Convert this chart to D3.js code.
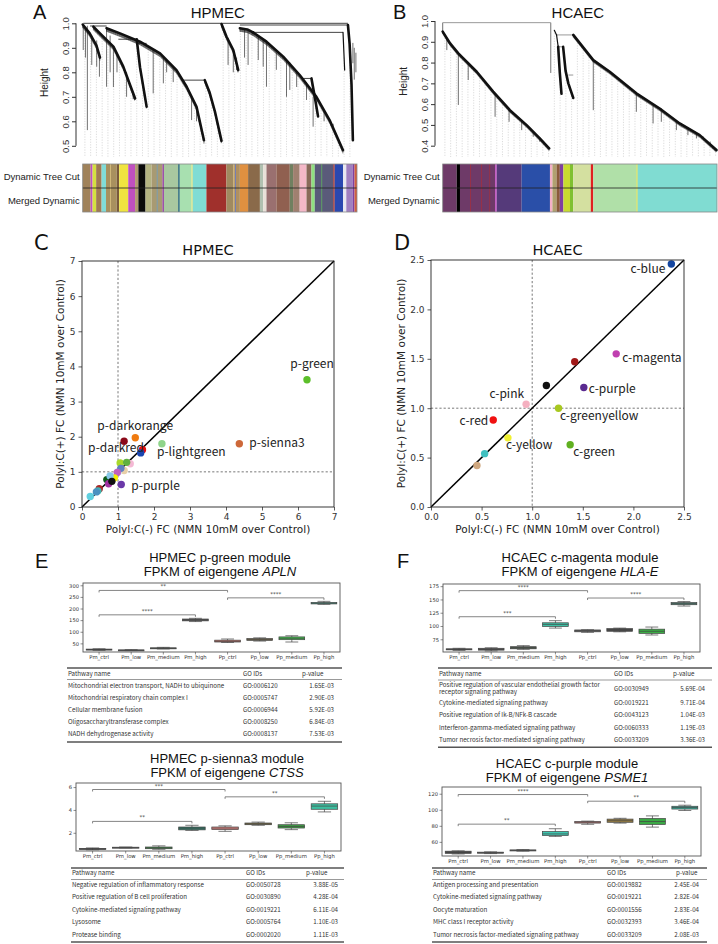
<!DOCTYPE html>
<html><head><meta charset="utf-8">
<script src="https://cdn.jsdelivr.net/npm/d3@7/dist/d3.min.js"></script>
<style>html,body{margin:0;padding:0;background:#fff;}svg{display:block;}</style>
</head><body>
<script>
// ====================== DATA ======================
// Panel A / B : WGCNA gene dendrograms. Leaf order 0-1000, merge height.
const dendroA_spines = [
  [[0,0.995],[25,0.96],[50,0.91],[63,0.86]],
  [[39,0.986],[63,0.959],[112,0.905],[148,0.823],[191,0.693]],
  [[87,0.98],[136,0.959],[209,0.925],[282,0.877],[342,0.809],[379,0.741],[415,0.659],[442,0.523]],
  [[197,0.935],[209,0.82],[233,0.66]],
  [[445,0.768],[462,0.72],[482,0.64],[506,0.52]],
  [[506,0.997],[524,0.946],[549,0.891],[567,0.809]],
  [[573,0.98],[600,0.975],[621,0.963]],
  [[621,0.963],[670,0.925],[731,0.864],[791,0.789],[852,0.700],[900,0.605],[949,0.482]],
  [[834,0.775],[846,0.70],[858,0.62]],
  [[949,0.963],[955,0.809]],
  [[967,0.993],[973,0.918],[980,0.75],[985,0.523]]
];
const dendroA_merges = [[1.0,2,967],[0.993,573,967],[0.989,27,87],[0.963,621,949],[0.935,130,197],[0.918,197,233],[0.768,360,445],[0.775,797,834]];
const dendroA_drops = [[17,0.99,0.564],[2,0.99,0.891],[10,0.98,0.86],[33,0.95,0.83],[51,0.93,0.823],[61,0.88,0.782],[87,0.98,0.741],[100,0.95,0.80],[112,0.9,0.74],[125,0.87,0.80],[160,0.80,0.70],[184,0.72,0.69],[257,0.89,0.714],[294,0.86,0.755],[306,0.85,0.80],[330,0.82,0.76],[397,0.70,0.605],[415,0.66,0.60],[530,0.94,0.83],[549,0.89,0.80],[561,0.86,0.809],[590,0.975,0.86],[603,0.97,0.83],[640,0.95,0.85],[658,0.93,0.823],[670,0.925,0.741],[706,0.88,0.81],[743,0.85,0.70],[755,0.84,0.728],[780,0.80,0.74],[816,0.76,0.687],[840,0.70,0.578],[880,0.64,0.60],[913,0.59,0.578],[985,0.92,0.837],[990,0.90,0.77],[996,0.88,0.80]];
const dendroA_colors = [[0,29,'#a0825a'],[29,36,'#c050c0'],[36,49,'#d4e040'],[49,69,'#a07a52'],[69,85,'#80dcd8'],[85,124,'#a8905e'],[100,103,'#d8c080'],[124,133,'#7a5a3a'],[133,166,'#f0e440'],[166,191,'#c050c0'],[191,203,'#b09a70'],[203,229,'#0a0a0a'],[229,251,'#b4b482'],[251,291,'#a89a72'],[270,273,'#70a0c0'],[291,296,'#9030a0'],[296,348,'#a8c8a0'],[348,354,'#2a6a7a'],[354,397,'#a8e0b0'],[397,401,'#e0e060'],[401,451,'#80dcd4'],[451,524,'#a0302c'],[524,549,'#a08a60'],[549,555,'#c0a060'],[555,558,'#3050c0'],[558,573,'#b09060'],[573,603,'#e09040'],[603,646,'#8a6a4a'],[646,658,'#b0c0b0'],[658,670,'#e8e0d8'],[670,706,'#9a7070'],[706,755,'#906050'],[755,767,'#708060'],[767,791,'#a08070'],[791,816,'#f4b8c8'],[816,834,'#8a6a5a'],[834,846,'#90e080'],[846,913,'#5a5a7a'],[870,873,'#60b060'],[913,919,'#a04040'],[919,949,'#2a48b0'],[949,961,'#e8e8f0'],[961,985,'#a080c0'],[985,991,'#8040a0'],[991,1000,'#d06040']];

const dendroB_spines = [
  [[0,0.949],[27,0.892],[57,0.844],[124,0.756],[184,0.66],[245,0.571],[306,0.499],[354,0.435],[388,0.387]],
  [[476,0.933],[549,0.812],[609,0.756],[706,0.652],[791,0.579],[864,0.507],[937,0.451],[998,0.379]],
  [[421,0.876],[427,0.75],[433,0.65]],
  [[439,0.876],[448,0.76],[458,0.70],[476,0.63]],
  [[407,0.955],[415,0.933]],
  [[415,0.933],[421,0.876]]
];
const dendroB_merges = [[0.992,0,394],[0.933,415,476],[0.876,421,439],[0.74,458,476]];
const dendroB_drops = [[0,0.992,0.949],[394,0.992,0.75],[15,0.92,0.86],[57,0.844,0.596],[93,0.80,0.716],[191,0.65,0.539],[242,0.58,0.515],[288,0.52,0.475],[330,0.47,0.443],[354,0.44,0.419],[549,0.812,0.571],[706,0.652,0.563],[767,0.60,0.507],[797,0.58,0.515],[852,0.52,0.475],[894,0.49,0.451],[925,0.46,0.435],[949,0.445,0.43],[975,0.42,0.40]];
const dendroB_colors = [[0,51,'#6e3a68'],[51,63,'#000000'],[63,191,'#6e3a68'],[100,102,'#a03040'],[140,142,'#a03040'],[170,172,'#a03040'],[191,197,'#c050c0'],[197,288,'#553a7a'],[288,391,'#2a4fa8'],[391,400,'#f4b0c8'],[400,415,'#b0a070'],[415,427,'#8a5a3a'],[427,440,'#8040a0'],[440,464,'#c8dc30'],[464,476,'#80c030'],[476,540,'#d4e0a0'],[540,549,'#e02020'],[549,706,'#b0e0a8'],[706,711,'#c8dc50'],[711,1000,'#80dcd2']];

// Panel C : HPMEC module eigengene fold changes
const scatterC_modules = ['p-green','p-sienna3','p-lightgreen','p-darkorange','p-darkred','p-red','p-blue','p-pink','p-greenyellow','p-lightyellow','p-tan','p-lightcyan','p-midnightblue','p-magenta','p-purple','p-yellow','p-darkgreen','p-plum','p-skyblue','p-black','p-brown','p-turquoise','p-steelblue','p-cyan'];
const scatterC_x = [6.25,4.37,2.22,1.48,1.17,1.68,1.63,1.34,1.06,1.24,1.17,1.0,1.08,0.98,1.09,0.9,0.69,0.74,0.78,0.83,0.48,0.44,0.40,0.23];
const scatterC_y = [3.62,1.80,1.80,1.97,1.87,1.63,1.54,1.23,1.25,1.27,1.04,1.0,1.1,0.98,0.64,0.83,0.78,0.66,0.88,0.73,0.52,0.46,0.43,0.30];
const scatterC_colors = ['#5cbf2a','#cd6839','#8fd48a','#f07b10','#8b0a1a','#e81010','#1a46b0','#f4b8d4','#a8d82a','#60b040','#e8d0a8','#b0d8f0','#6080c0','#c060c0','#6a38a8','#f4f000','#0e5a1a','#a030a0','#88c8e8','#101010','#a82828','#40b8b0','#4a90c0','#60d0e0'];
const scatterC_labeled = ['p-green','p-sienna3','p-lightgreen','p-darkorange','p-darkred','p-purple'];

// Panel D : HCAEC module eigengene fold changes
const scatterD_modules = ['c-blue','c-magenta','c-brown','c-black','c-purple','c-pink','c-greenyellow','c-red','c-yellow','c-green','c-turquoise','c-tan'];
const scatterD_x = [2.375,1.83,1.42,1.14,1.51,0.94,1.26,0.615,0.76,1.375,0.53,0.454];
const scatterD_y = [2.46,1.55,1.47,1.23,1.21,1.04,1.0,0.88,0.70,0.63,0.54,0.42];
const scatterD_colors = ['#1446a0','#c040b0','#a01818','#101010','#5a2a90','#f4b0c0','#a8c820','#f01010','#f0f030','#60b020','#40c0c0','#d0a880'];
const scatterD_labeled = ['c-blue','c-magenta','c-purple','c-pink','c-greenyellow','c-red','c-yellow','c-green'];

// Panels E / F : box plots  [min, q1, median, q3, max]
const boxCategories = ['Pm_ctrl','Pm_low','Pm_medium','Pm_high','Pp_ctrl','Pp_low','Pp_medium','Pp_high'];
const boxAPLN = [[22,23.5,25.5,27.5,29],[21,22,23,24,25],[28,29.5,31,33,35],[146,149,153,157,160],[56,58,61,66,71],[62,65,69,73,76],[58,68,74,80,85],[220,222,225,228,233]];
const boxCTSS = [[0.55,0.6,0.63,0.68,0.72],[0.72,0.74,0.76,0.78,0.8],[0.6,0.65,0.72,0.8,0.9],[2.25,2.3,2.45,2.55,2.7],[2.17,2.32,2.45,2.55,2.65],[2.7,2.75,2.82,2.9,2.98],[2.32,2.46,2.6,2.75,2.92],[3.87,4.1,4.38,4.58,4.8]];
const boxHLAE = [[55,56,57,58,59],[54,55.5,57,59,60],[57,58,60,62,64],[97,100,104,107,111],[89,90,92,93.5,94],[90,91,94,96,97],[84,87,91,95,99],[138.5,141,143,145,147]];
const boxPSME1 = [[45.5,46.3,47.5,49,49.5],[46,46.5,47,47.8,48.2],[49,49.3,50,50.6,51],[67.4,68.5,70.5,73.5,77],[82.5,84,85,86,86.5],[84,85,87,89,90],[79,82.3,86,89.8,93],[99.7,101.5,103.5,105,106.3]];
const boxColorsAPLN = ['#4d4d4d','#6b6b6b','#5e6e5e','#585858','#d77a6e','#8c7d52','#3fc24a','#3aa88e'];
const boxColorsCTSS = ['#3a3a3a','#8a8a8a','#3e9a4a','#2e7a68','#f08a86','#8a7a48','#3f9e45','#3dbfa0'];
const boxColorsHLAE = ['#444444','#555555','#4d5d4d','#3cc0a4','#666666','#4a4a4a','#3aad44','#4a8a7a'];
const boxColorsPSME1 = ['#4a4a4a','#7a7a7a','#7a7a7a','#3ec8b2','#e48a86','#9a8044','#3aa844','#3aaa98'];
// significance brackets [from, to, height, label]
const sigAPLN = [['Pm_ctrl','Pp_ctrl',280,'**'],['Pm_ctrl','Pm_high',175,'****'],['Pp_ctrl','Pp_high',248,'****']];
const sigCTSS = [['Pm_ctrl','Pp_ctrl',5.83,'***'],['Pm_ctrl','Pm_high',3.04,'**'],['Pp_ctrl','Pp_high',5.19,'**']];
const sigHLAE = [['Pm_ctrl','Pp_ctrl',167.5,'****'],['Pm_ctrl','Pm_high',118.4,'***'],['Pp_ctrl','Pp_high',153.6,'****']];
const sigPSME1 = [['Pm_ctrl','Pp_ctrl',119.6,'****'],['Pm_ctrl','Pm_high',82.7,'**'],['Pp_ctrl','Pp_high',111.3,'**']];

// GO enrichment tables
const tableHeader = ['Pathway name','GO IDs','p-value'];
const goAPLN = [['Mitochondrial electron transport, NADH to ubiquinone','GO:0006120','1.65E-03'],['Mitochondrial respiratory chain complex I','GO:0005747','2.90E-03'],['Cellular membrane fusion','GO:0006944','5.92E-03'],['Oligosaccharyltransferase complex','GO:0008250','6.84E-03'],['NADH dehydrogenase activity','GO:0008137','7.53E-03']];
const goCTSS = [['Negative regulation of inflammatory response','GO:0050728','3.88E-05'],['Positive regulation of B cell proliferation','GO:0030890','4.28E-04'],['Cytokine-mediated signaling pathway','GO:0019221','6.11E-04'],['Lysosome','GO:0005764','1.10E-03'],['Protease binding','GO:0002020','1.11E-03']];
const goHLAE = [['Positive regulation of vascular endothelial growth factor|receptor signaling pathway','GO:0030949','5.69E-04'],['Cytokine-mediated signaling pathway','GO:0019221','9.71E-04'],['Positive regulation of Ik-B/NFk-B cascade','GO:0043123','1.04E-03'],['Interferon-gamma-mediated signaling pathway','GO:0060333','1.19E-03'],['Tumor necrosis factor-mediated signaling pathway','GO:0033209','3.36E-03']];
const goPSME1 = [['Antigen processing and presentation','GO:0019882','2.45E-04'],['Cytokine-mediated signaling pathway','GO:0019221','2.82E-04'],['Oocyte maturation','GO:0001556','2.83E-04'],['MHC class I receptor activity','GO:0032393','3.46E-04'],['Tumor necrosis factor-mediated signaling pathway','GO:0033209','2.08E-03']];

// ====================== LAYOUT / STYLE ======================
const ARIAL = "'Liberation Sans', Arial, sans-serif";
const DEJAVU = "'DejaVu Sans', sans-serif";
const JP = "'Noto Sans CJK JP', 'Noto Sans', sans-serif";
const labelStyleC = {'p-green':[5,-12,'middle'],'p-darkorange':[-38,-8,'start'],'p-darkred':[-36,11,'start'],'p-lightgreen':[-5,12,'start'],'p-sienna3':[10,3,'start'],'p-purple':[10,5,'start']};
const labelStyleD = {'c-blue':[-6,9,'end'],'c-magenta':[6,8,'start'],'c-purple':[5,6,'start'],'c-pink':[-2,-6,'end'],'c-greenyellow':[1.5,12,'start'],'c-red':[-5,5,'end'],'c-yellow':[-2,11,'start'],'c-green':[3,11,'start']};

const W = 718, H = 944;
const svg = d3.select('body').append('svg').attr('width', W).attr('height', H);

function txt(x, y, s, size, fam, anchor) {
  return svg.append('text').attr('x', x).attr('y', y).attr('font-size', size)
    .attr('font-family', fam || ARIAL).attr('text-anchor', anchor || 'start').attr('fill', '#111').text(s);
}

// ---------- dendrogram ----------
function interpSpine(s, l) {
  for (let i = 0; i < s.length - 1; i++) {
    const a = s[i], b = s[i + 1];
    if (l >= a[0] && l <= b[0]) {
      const t = b[0] === a[0] ? 0 : (l - a[0]) / (b[0] - a[0]);
      return a[1] + t * (b[1] - a[1]);
    }
  }
  return null;
}
function heightAt(spines, l) {
  let best = null;
  spines.forEach(s => {
    const h = interpSpine(s, l);
    if (h !== null && (best === null || h < best)) best = h;
  });
  return best;
}
function drawDendro(cfg, spines, merges, drops, bars, title, letter) {
  const g = svg.append('g');
  const x = d3.scaleLinear().domain([0, 1000]).range([cfg.x0, cfg.x1]);
  const y = d3.scaleLinear().domain([cfg.hLo, 1.0]).range([cfg.yLo, cfg.yHi]);
  for (let l = 8; l < 1000; l += 21) {
    const h = heightAt(spines, l);
    if (h === null) continue;
    g.append('line').attr('x1', x(l)).attr('x2', x(l)).attr('y1', y(h)).attr('y2', cfg.guideBottom)
      .attr('stroke', '#c4c4c4').attr('stroke-width', 0.6).attr('stroke-dasharray', '1.2,1.4');
  }
  drops.forEach(d => g.append('line').attr('x1', x(d[0])).attr('x2', x(d[0])).attr('y1', y(d[1])).attr('y2', y(d[2]))
    .attr('stroke', '#333').attr('stroke-width', 0.7));
  merges.forEach(m => g.append('line').attr('x1', x(m[1])).attr('x2', x(m[2])).attr('y1', y(m[0])).attr('y2', y(m[0]))
    .attr('stroke', cfg.mergeColor).attr('stroke-width', 1));
  spines.forEach(s => {
    if (s.length <= 2) return;
    for (let l = s[0][0]; l <= s[s.length - 1][0]; l += 2.5) {
      const h = interpSpine(s, l);
      if (h === null) continue;
      g.append('line').attr('x1', x(l)).attr('x2', x(l)).attr('y1', y(h)).attr('y2', y(h) + cfg.hair)
        .attr('stroke', '#222').attr('stroke-width', 0.6);
    }
  });
  const line = d3.line().x(d => x(d[0])).y(d => y(d[1])).curve(d3.curveLinear);
  spines.forEach(s => g.append('path').attr('d', line(s)).attr('fill', 'none').attr('stroke', '#111')
    .attr('stroke-width', (s.length <= 2) ? 1.2 : 2.6).attr('stroke-linejoin', 'round').attr('stroke-linecap', 'round'));
  const ax = d3.axisLeft(y).tickValues(cfg.ticks).tickSize(4).tickFormat(d3.format('.1f'));
  const ag = g.append('g').attr('transform', `translate(${cfg.axisX},0)`).call(ax);
  ag.select('.domain').attr('stroke', '#333').attr('d', `M0,${y(cfg.ticks[0])}V${y(cfg.ticks[cfg.ticks.length - 1])}`);
  ag.selectAll('.tick line').attr('stroke', '#333');
  ag.selectAll('.tick text').attr('transform', 'rotate(-90)').attr('text-anchor', 'middle')
    .attr('x', 0).attr('y', -7).attr('dy', 0).attr('font-size', 9.5).attr('font-family', ARIAL).attr('fill', '#333');
  svg.append('text').attr('transform', `translate(${cfg.axisX - 28},${(cfg.yHi + cfg.yLo) / 2 - 2}) rotate(-90)`)
    .attr('text-anchor', 'middle').attr('font-size', 10).attr('font-family', ARIAL).attr('fill', '#222').text('Height');
  bars.forEach(b => g.append('rect').attr('x', x(b[0])).attr('width', Math.max(0.8, x(b[1]) - x(b[0])))
    .attr('y', cfg.barTop).attr('height', cfg.barH * 2).attr('fill', b[2]));
  g.append('line').attr('x1', x(0)).attr('x2', x(1000)).attr('y1', cfg.barTop + cfg.barH).attr('y2', cfg.barTop + cfg.barH)
    .attr('stroke', '#222').attr('stroke-width', 0.8);
  g.append('rect').attr('x', x(0)).attr('y', cfg.barTop).attr('width', x(1000) - x(0)).attr('height', cfg.barH * 2)
    .attr('fill', 'none').attr('stroke', '#888').attr('stroke-width', 0.8);
  txt(cfg.x0 - 3, cfg.barTop + cfg.barH / 2 + 3.5, 'Dynamic Tree Cut', 9.5, ARIAL, 'end').attr('fill', '#222');
  txt(cfg.x0 - 3, cfg.barTop + cfg.barH * 1.5 + 3.5, 'Merged Dynamic', 9.5, ARIAL, 'end').attr('fill', '#222');
  txt((cfg.x0 + cfg.x1) / 2 + cfg.titleDx, 18, title, 15, ARIAL, 'middle');
  txt(cfg.letterX, 19, letter, 20, ARIAL, 'start');
}

drawDendro({x0: 82.7, x1: 357, hLo: 0.5, yLo: 145.8, yHi: 23.3, guideBottom: 157, axisX: 76, ticks: [0.5, 0.6, 0.7, 0.8, 0.9, 1.0],
  barTop: 164, barH: 24, mergeColor: '#444', titleDx: -2, letterX: 33, hair: 3.5}, dendroA_spines, dendroA_merges, dendroA_drops, dendroA_colors, 'HPMEC', 'A');
drawDendro({x0: 442.7, x1: 717, hLo: 0.4, yLo: 145.7, yHi: 21, guideBottom: 157, axisX: 435, ticks: [0.4, 0.5, 0.6, 0.7, 0.8, 0.9, 1.0],
  barTop: 164, barH: 24, mergeColor: '#999', titleDx: -2, letterX: 393, hair: 2.5}, dendroB_spines, dendroB_merges, dendroB_drops, dendroB_colors, 'HCAEC', 'B');

// ---------- scatter ----------
function drawScatter(cfg, mods, xs, ys, cols, labeled, lstyle, title, letter) {
  const g = svg.append('g');
  const x = d3.scaleLinear().domain([0, cfg.max]).range([cfg.x0, cfg.x1]);
  const y = d3.scaleLinear().domain([0, cfg.max]).range([cfg.y1, cfg.y0]);
  g.append('line').attr('x1', x(1)).attr('x2', x(1)).attr('y1', cfg.y0).attr('y2', cfg.y1)
    .attr('stroke', '#555').attr('stroke-width', 0.8).attr('stroke-dasharray', '2.2,2');
  g.append('line').attr('x1', cfg.x0).attr('x2', cfg.x1).attr('y1', y(1)).attr('y2', y(1))
    .attr('stroke', '#555').attr('stroke-width', 0.8).attr('stroke-dasharray', '2.2,2');
  g.append('line').attr('x1', x(0)).attr('y1', y(0)).attr('x2', x(cfg.max)).attr('y2', y(cfg.max))
    .attr('stroke', '#000').attr('stroke-width', 1.5);
  mods.forEach((m, i) => g.append('circle').attr('cx', x(xs[i])).attr('cy', y(ys[i])).attr('r', 3.7).attr('fill', cols[i]));
  mods.forEach((m, i) => {
    if (!labeled.includes(m)) return;
    const s = lstyle[m];
    g.append('text').attr('x', x(xs[i]) + s[0]).attr('y', y(ys[i]) + s[1]).attr('text-anchor', s[2])
      .attr('font-size', 12).attr('font-family', JP).attr('fill', '#222').text(m);
  });
  const axb = d3.axisBottom(x).tickValues(cfg.ticks).tickSize(3.5).tickFormat(cfg.fmt);
  const axl = d3.axisLeft(y).tickValues(cfg.ticks).tickSize(3.5).tickFormat(cfg.fmt);
  const gb = g.append('g').attr('transform', `translate(0,${cfg.y1})`).call(axb);
  const gl = g.append('g').attr('transform', `translate(${cfg.x0},0)`).call(axl);
  [gb, gl].forEach(a => {
    a.select('.domain').remove();
    a.selectAll('.tick line').attr('stroke', '#333').attr('stroke-width', 0.8);
    a.selectAll('.tick text').attr('font-size', 9).attr('font-family', DEJAVU).attr('fill', '#333');
  });
  g.append('rect').attr('x', cfg.x0).attr('y', cfg.y0).attr('width', cfg.x1 - cfg.x0).attr('height', cfg.y1 - cfg.y0)
    .attr('fill', 'none').attr('stroke', '#222').attr('stroke-width', 0.9);
  txt((cfg.x0 + cfg.x1) / 2, 533, 'PolyI:C(-) FC (NMN 10mM over Control)', 10.5, DEJAVU, 'middle').attr('fill', '#222');
  svg.append('text').attr('transform', `translate(${cfg.ylabX},${(cfg.y0 + cfg.y1) / 2}) rotate(-90)`).attr('text-anchor', 'middle')
    .attr('font-size', 10.5).attr('font-family', DEJAVU).attr('fill', '#222').text('PolyI:C(+) FC (NMN 10mM over Control)');
  txt((cfg.x0 + cfg.x1) / 2, 255, title, 14.5, DEJAVU, 'middle');
  txt(cfg.letterX, 250, letter, 21, DEJAVU, 'start');
}
drawScatter({x0: 82, x1: 334, y0: 261, y1: 507, max: 7, ticks: [0, 1, 2, 3, 4, 5, 6, 7], fmt: d3.format('d'), ylabX: 64, letterX: 34},
  scatterC_modules, scatterC_x, scatterC_y, scatterC_colors, scatterC_labeled, labelStyleC, 'HPMEC', 'C');
drawScatter({x0: 431, x1: 684, y0: 260, y1: 507, max: 2.5, ticks: [0, 0.5, 1, 1.5, 2, 2.5], fmt: d3.format('.1f'), ylabX: 405, letterX: 394},
  scatterD_modules, scatterD_x, scatterD_y, scatterD_colors, scatterD_labeled, labelStyleD, 'HCAEC', 'D');

// ---------- box plots ----------
function drawBox(cfg, stats, colors, sig, ticks, title1, gene) {
  const g = svg.append('g');
  const x = d3.scaleBand().domain(boxCategories).range([cfg.x0, cfg.x1]);
  const y = d3.scaleLinear().domain(cfg.yDomain).range([cfg.y1, cfg.y0]);
  const bw = x.bandwidth() * 0.8;
  const cx = c => x(c) + x.bandwidth() / 2;
  stats.forEach((s, i) => {
    const c = cx(boxCategories[i]);
    g.append('line').attr('x1', c).attr('x2', c).attr('y1', y(s[0])).attr('y2', y(s[4])).attr('stroke', '#444').attr('stroke-width', 0.7);
    [s[0], s[4]].forEach(v => g.append('line').attr('x1', c - bw / 4).attr('x2', c + bw / 4).attr('y1', y(v)).attr('y2', y(v))
      .attr('stroke', '#444').attr('stroke-width', 0.7));
    g.append('rect').attr('x', c - bw / 2).attr('width', bw).attr('y', y(s[3])).attr('height', Math.max(1, y(s[1]) - y(s[3])))
      .attr('fill', colors[i]).attr('stroke', '#444').attr('stroke-width', 0.7);
    g.append('line').attr('x1', c - bw / 2).attr('x2', c + bw / 2).attr('y1', y(s[2])).attr('y2', y(s[2])).attr('stroke', '#444').attr('stroke-width', 0.7);
  });
  sig.forEach(b => {
    const a = cx(b[0]), e = cx(b[1]), yy = y(b[2]);
    g.append('path').attr('d', `M${a},${yy + 2}V${yy}H${e}V${yy + 2}`).attr('fill', 'none').attr('stroke', '#666').attr('stroke-width', 0.8);
    g.append('text').attr('x', (a + e) / 2).attr('y', yy - 2).attr('text-anchor', 'middle').attr('font-size', 5.5)
      .attr('font-family', DEJAVU).attr('fill', '#444').text(b[3]);
  });
  g.append('rect').attr('x', cfg.x0).attr('y', cfg.y0).attr('width', cfg.x1 - cfg.x0).attr('height', cfg.y1 - cfg.y0)
    .attr('fill', 'none').attr('stroke', '#555').attr('stroke-width', 0.9);
  ticks.forEach(t => {
    g.append('line').attr('x1', cfg.x0 - 2.5).attr('x2', cfg.x0).attr('y1', y(t)).attr('y2', y(t)).attr('stroke', '#444').attr('stroke-width', 0.6);
    g.append('text').attr('x', cfg.x0 - 4).attr('y', y(t) + 1.8).attr('text-anchor', 'end').attr('font-size', 5.2)
      .attr('font-family', DEJAVU).attr('fill', '#333').text(t);
  });
  boxCategories.forEach(c => {
    g.append('line').attr('x1', cx(c)).attr('x2', cx(c)).attr('y1', cfg.y1).attr('y2', cfg.y1 + 2.5).attr('stroke', '#444').attr('stroke-width', 0.6);
    g.append('text').attr('x', cx(c)).attr('y', cfg.y1 + 7).attr('text-anchor', 'middle').attr('font-size', 5.3)
      .attr('font-family', DEJAVU).attr('fill', '#333').text(c);
  });
  txt(cfg.tx, cfg.ty, title1, 13, ARIAL, 'middle');
  const t2 = txt(cfg.tx, cfg.ty + 14, 'FPKM of eigengene ', 13, ARIAL, 'middle');
  t2.append('tspan').attr('font-style', 'italic').text(gene);
}
drawBox({x0: 83, x1: 340, y0: 583, y1: 652, yDomain: [15, 312], tx: 220, ty: 562}, boxAPLN, boxColorsAPLN, sigAPLN, [50, 100, 150, 200, 250, 300], 'HPMEC p-green module', 'APLN');
drawBox({x0: 76, x1: 341, y0: 783, y1: 851, yDomain: [0.45, 6.4], tx: 227, ty: 763}, boxCTSS, boxColorsCTSS, sigCTSS, [2, 4, 6], 'HPMEC p-sienna3 module', 'CTSS');
drawBox({x0: 443, x1: 700, y0: 584, y1: 652, yDomain: [52, 180], tx: 580, ty: 562}, boxHLAE, boxColorsHLAE, sigHLAE, [75, 100, 125, 150, 175], 'HCAEC c-magenta module', 'HLA-E');
drawBox({x0: 442, x1: 701, y0: 787, y1: 856, yDomain: [43, 129], tx: 567, ty: 768}, boxPSME1, boxColorsPSME1, sigPSME1, [60, 80, 100, 120], 'HCAEC c-purple module', 'PSME1');

// ---------- tables ----------
function drawTable(cfg, rows) {
  const g = svg.append('g');
  const rule = (yy, w, c) => g.append('line').attr('x1', cfg.x0).attr('x2', cfg.x1).attr('y1', yy).attr('y2', yy).attr('stroke', c).attr('stroke-width', w);
  rule(cfg.top, 1.4, '#555');
  rule(cfg.hrule, 1.2, '#999');
  rule(cfg.bottom, 1.4, '#555');
  const t = (x, y, s, a) => g.append('text').attr('x', x).attr('y', y).attr('text-anchor', a || 'start').attr('font-size', 6.2)
    .attr('font-family', JP).attr('fill', '#333').text(s);
  t(cfg.x0 + 1, cfg.header, tableHeader[0]);
  t(cfg.goX, cfg.header, tableHeader[1]);
  t(cfg.pHeadX, cfg.header, tableHeader[2]);
  rows.forEach((r, i) => {
    const yy = cfg.rows[i];
    const parts = r[0].split('|');
    if (parts.length > 1) {
      t(cfg.x0 + 1, yy - 3.8, parts[0]);
      t(cfg.x0 + 1, yy + 3.8, parts[1]);
    } else t(cfg.x0 + 1, yy, parts[0]);
    t(cfg.goX, yy, r[1]);
    t(cfg.pX, yy, r[2], 'end');
  });
}
drawTable({x0: 67, x1: 342, top: 668, header: 676, hrule: 679.5, bottom: 742, rows: [688, 700, 712, 724, 736], goX: 243, pHeadX: 302, pX: 334}, goAPLN);
drawTable({x0: 71, x1: 344, top: 868, header: 875, hrule: 879.5, bottom: 942, rows: [887, 899.3, 911.7, 924, 936.7], goX: 246, pHeadX: 306, pX: 338}, goCTSS);
drawTable({x0: 438, x1: 712, top: 668, header: 676, hrule: 680, bottom: 747.3, rows: [690.5, 704.5, 717, 730, 741.7], goX: 614, pHeadX: 673, pX: 705}, goHLAE);
drawTable({x0: 432, x1: 707, top: 868, header: 875, hrule: 879.5, bottom: 942, rows: [887, 899.3, 911.7, 924, 936.7], goX: 607, pHeadX: 676, pX: 699}, goPSME1);

txt(35, 568, 'E', 20, ARIAL, 'start');
txt(397, 568, 'F', 20, ARIAL, 'start');
</script>
</body></html>
